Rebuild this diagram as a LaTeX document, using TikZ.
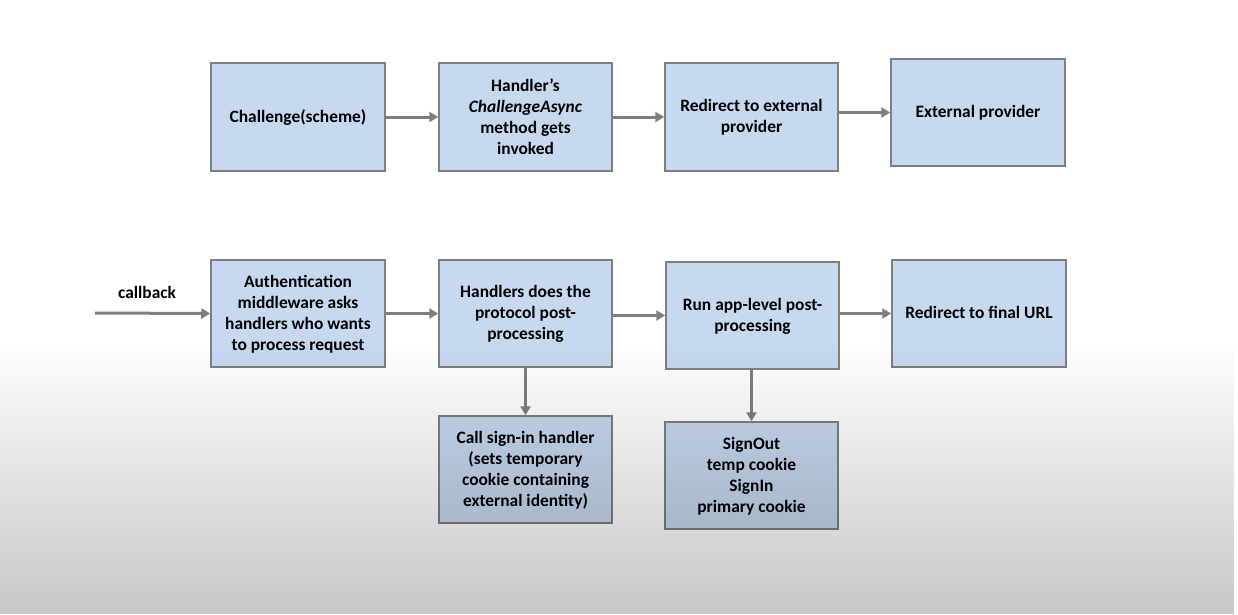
\documentclass[tikz,border=0pt]{standalone}
\usepackage{fontspec}
\setmainfont{Carlito}
\usetikzlibrary{arrows.meta,fadings}
\definecolor{boxfill}{HTML}{C6D9F1}
\definecolor{boxline}{HTML}{7F7F7F}
\definecolor{arrgray}{HTML}{7F7F7F}
\tikzset{
  box/.style={draw=boxline, line width=1.5pt, fill=boxfill, align=center,
    font=\fontsize{17.4pt}{21pt}\selectfont\bfseries, inner sep=0pt, text depth=1.5pt},
  arr/.style={draw=arrgray, line width=3pt, -{Triangle[length=9pt,width=10pt]}},
  lbl/.style={font=\fontsize{17.4pt}{21pt}\selectfont\bfseries}
}
\begin{document}
\begin{tikzpicture}[x=1pt,y=-1pt]
\useasboundingbox (0,0) rectangle (1238,614);
\fill[white] (0,0) rectangle (1238,614);

\node[box, minimum width=174pt, minimum height=108pt] (n1) at (298,117) {Challenge(scheme)};
\node[box, minimum width=173pt, minimum height=108pt] (n2) at (525.5,117) {Handler's\\\textit{ChallengeAsync}\\method gets\\invoked};
\node[box, minimum width=173pt, minimum height=108pt] (n3) at (751.5,117) {Redirect to external\\provider};
\node[box, minimum width=174pt, minimum height=107pt] (n4) at (978,112.5) {External provider};

\node[box, minimum width=174pt, minimum height=107pt] (n5) at (298,313.5) {Authentication\\middleware asks\\handlers who wants\\to process request};
\node[box, minimum width=173pt, minimum height=107pt] (n6) at (525.5,313.5) {Handlers does the\\protocol post-\\processing};
\node[box, minimum width=173pt, minimum height=107pt] (n7) at (752.5,315.5) {Run app-level post-\\processing};
\node[box, minimum width=174pt, minimum height=107pt] (n8) at (979,313.5) {Redirect to final URL};

\node[box, minimum width=173pt, minimum height=107pt] (n9) at (525.5,469.5) {Call sign-in handler\\(sets temporary\\cookie containing\\external identity)};
\node[box, minimum width=173pt, minimum height=107pt] (n10) at (751.5,475.5) {SignOut\\temp cookie\\SignIn\\primary cookie};

\coordinate (cb) at (95,313);
\node[lbl] (cbl) at (147,292) {callback};

\draw[arr] (n1) -- (n2);
\draw[arr] (n2) -- (n3);
\draw[arr] (n4.west -| n3.east) -- (n4.west);
\draw[arr] (cb) -- (n5.west);
\draw[arr] (n5) -- (n6);
\draw[arr] (n7.west -| n6.east) -- (n7.west);
\draw[arr] (n8.west -| n7.east) -- (n8.west);
\draw[arr] (n6.south) -- (n9.north);
\draw[arr] (n10.north |- n7.south) -- (n10.north);

\fill[black, opacity=0.22, path fading=north] (0,340) rectangle (1238,614);
\end{tikzpicture}
\end{document}
